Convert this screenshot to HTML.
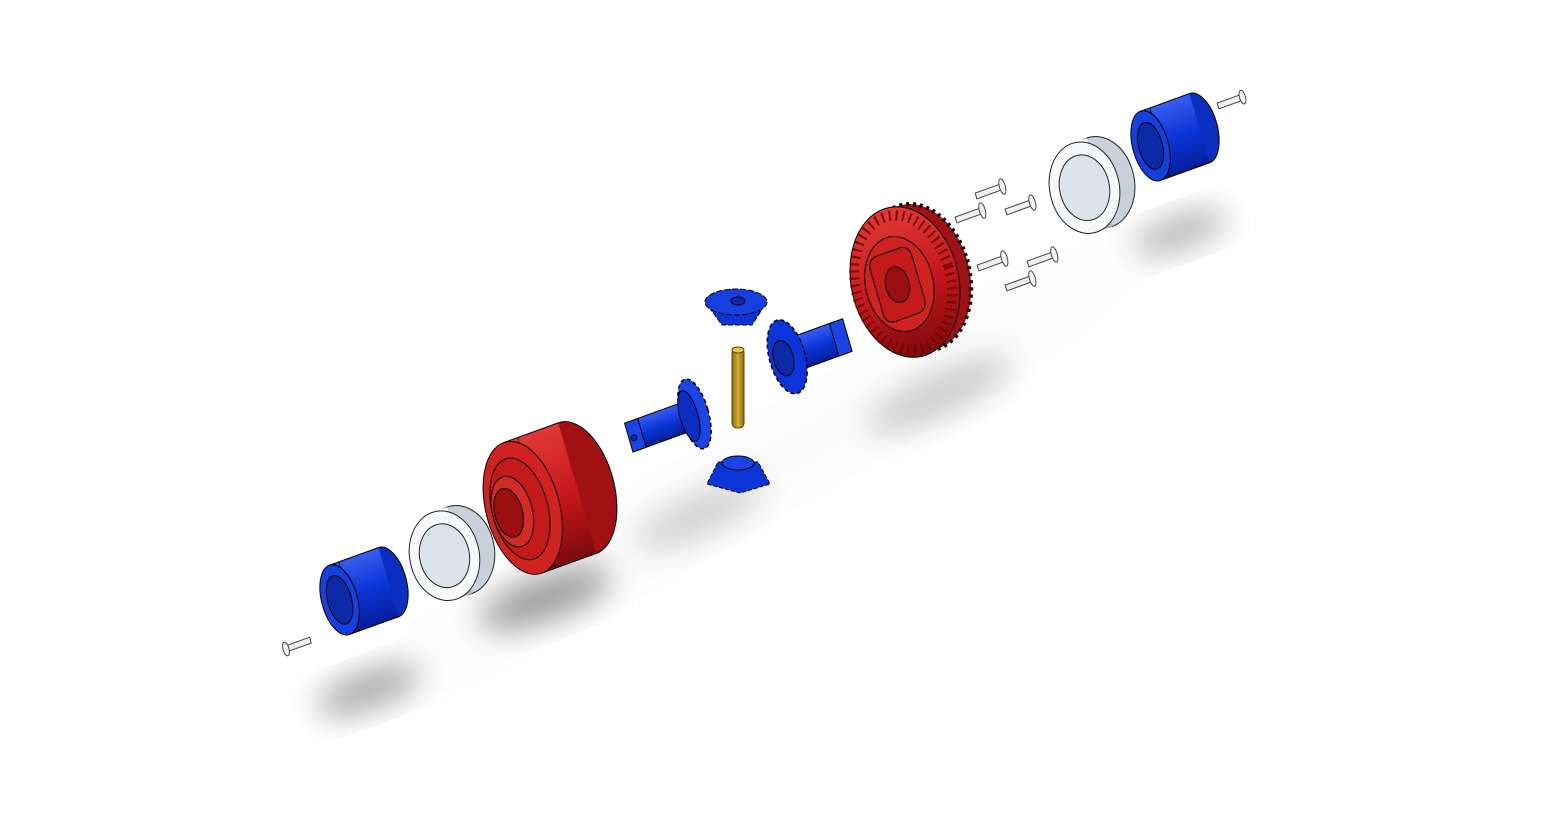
<!DOCTYPE html>
<html><head><meta charset="utf-8"><style>html,body{margin:0;padding:0;background:#fff;width:1560px;height:823px;overflow:hidden}</style></head>
<body>
<svg width="1560" height="823" viewBox="0 0 1560 823" xmlns="http://www.w3.org/2000/svg">
<defs>
<filter id="blur" x="-50%" y="-50%" width="200%" height="200%"><feGaussianBlur stdDeviation="16"/></filter>
<filter id="blur2" x="-50%" y="-50%" width="200%" height="200%"><feGaussianBlur stdDeviation="35"/></filter>
<linearGradient id="blueG" x1="0" y1="0" x2="0" y2="1"><stop offset="0" stop-color="#3a5df0"/><stop offset=".5" stop-color="#0b35d8"/><stop offset="1" stop-color="#061f9a"/></linearGradient>
<linearGradient id="redG" x1="0" y1="0" x2="0" y2="1"><stop offset="0" stop-color="#e03a35"/><stop offset=".55" stop-color="#c4161a"/><stop offset="1" stop-color="#7c0a0c"/></linearGradient>
<linearGradient id="whiteG" x1="0" y1="0" x2="0" y2="1"><stop offset="0" stop-color="#ffffff"/><stop offset=".6" stop-color="#dde4ee"/><stop offset="1" stop-color="#a8b2c2"/></linearGradient>
<linearGradient id="goldG" x1="0" y1="0" x2="1" y2="0"><stop offset="0" stop-color="#8a6d10"/><stop offset=".5" stop-color="#d4ad2c"/><stop offset="1" stop-color="#8a6d10"/></linearGradient>
</defs>

<g>
<ellipse cx="760" cy="470" rx="460" ry="26" transform="rotate(-30 760 470)" fill="#000" opacity="0.035" filter="url(#blur2)"/>
<ellipse cx="368" cy="690" rx="55" ry="18" transform="rotate(-20 368 690)" fill="#000" opacity="0.35" filter="url(#blur)"/>
<ellipse cx="545" cy="598" rx="70" ry="22" transform="rotate(-20 545 598)" fill="#000" opacity="0.38" filter="url(#blur)"/>
<ellipse cx="700" cy="515" rx="70" ry="22" transform="rotate(-25 700 515)" fill="#000" opacity="0.15" filter="url(#blur)"/>
<ellipse cx="940" cy="395" rx="80" ry="22" transform="rotate(-25 940 395)" fill="#000" opacity="0.18" filter="url(#blur)"/>
<ellipse cx="1180" cy="232" rx="50" ry="16" transform="rotate(-20 1180 232)" fill="#000" opacity="0.3" filter="url(#blur)"/>
</g>

<g transform="matrix(0.94,-0.34,0.28,0.96,286,649)">
<rect x="0" y="-3" width="26" height="6" fill="#f0f0ee" stroke="#444" stroke-width="1"/>
<ellipse cx="0" cy="0" rx="3" ry="7" fill="#f6f3ee" stroke="#444" stroke-width="1"/>
</g>

<g transform="matrix(0.94,-0.34,0.28,0.96,364,591)">
<ellipse cx="26" cy="0" rx="18" ry="36" fill="#0a2fc0" stroke="#000" stroke-width="1"/>
<rect x="-26" y="-36" width="52" height="72" fill="url(#blueG)"/>
<line x1="-26" y1="-36" x2="26" y2="-36" stroke="#000"/><line x1="-26" y1="36" x2="26" y2="36" stroke="#000"/>
<line x1="-16" y1="-36" x2="-16" y2="36" stroke="#000" stroke-width=".6"/>
<ellipse cx="-26" cy="0" rx="18" ry="36" fill="#1440e0" stroke="#000" stroke-width="1"/>
<ellipse cx="-26" cy="0" rx="12" ry="25" fill="#0a2aa8" stroke="#000" stroke-width="1"/>
</g>

<g transform="matrix(0.94,-0.34,0.28,0.96,452,553)">
<ellipse cx="8" cy="0" rx="35" ry="45" fill="#c8d0dc" stroke="#222" stroke-width="1"/>
<rect x="-8" y="-45" width="16" height="90" fill="url(#whiteG)"/>
<ellipse cx="-8" cy="0" rx="35" ry="45" fill="#f6f8fb" stroke="#222" stroke-width="1"/>
<ellipse cx="-8" cy="0" rx="25" ry="32" fill="#dde3ec" stroke="#222" stroke-width="1"/>
</g>

<g transform="matrix(0.94,-0.34,0.28,0.96,550,498)">
<ellipse cx="29" cy="0" rx="37" ry="68" fill="#a01014" stroke="#000" stroke-width="1"/>
<rect x="-29" y="-68" width="58" height="136" fill="url(#redG)"/>
<line x1="-29" y1="-68" x2="29" y2="-68" stroke="#000"/><line x1="-29" y1="68" x2="29" y2="68" stroke="#000"/>
<line x1="-14" y1="-68" x2="-14" y2="68" stroke="#000" stroke-width=".6"/>
<ellipse cx="-29" cy="0" rx="37" ry="68" fill="#d0221f" stroke="#000" stroke-width="1"/>
<ellipse cx="-32" cy="0" rx="28" ry="52" fill="#c41a1a" stroke="#000" stroke-width="1"/>
<ellipse cx="-40" cy="0" rx="20" ry="36" fill="#d42a26" stroke="#000" stroke-width="1"/>
<ellipse cx="-44" cy="0" rx="14" ry="25" fill="#9a0e10" stroke="#000" stroke-width="1"/>
</g>

<g transform="matrix(0.94,-0.34,0.28,0.96,672,422)">
<rect x="-42" y="-15" width="58" height="30" fill="url(#blueG)" stroke="#000" stroke-width="1"/>
<rect x="-46" y="-15" width="14" height="30" fill="#1a44e6" stroke="#000" stroke-width="1"/>
<circle cx="-41" cy="2" r="3" fill="#0a2aa8" stroke="#000" stroke-width=".8"/>
<ellipse cx="24" cy="0" rx="14" ry="36" fill="#1a44e6" stroke="#000" stroke-width="1.5" stroke-dasharray="4 3"/>
<ellipse cx="18" cy="0" rx="9" ry="26" fill="#0a2fc0" stroke="#000" stroke-width="1"/>
</g>

<g>
<rect x="732" y="348" width="12" height="80" rx="5" fill="url(#goldG)" stroke="#5a4808" stroke-width="1"/>
<ellipse cx="738" cy="350" rx="6" ry="3" fill="#e5c84a" stroke="#5a4808" stroke-width="1"/>
</g>

<g>
<path d="M706,303 L766,303 L752,325 L722,325 Z" fill="#0b35d8" stroke="#000" stroke-width="1" stroke-dasharray="5 2"/>
<ellipse cx="736" cy="302" rx="31" ry="13" fill="#1440e0" stroke="#000" stroke-width="1" stroke-dasharray="6 2"/>
<ellipse cx="738" cy="301" rx="7" ry="4" fill="#0a2aa8" stroke="#000" stroke-width="1"/>
</g>

<g>
<path d="M718,462 L758,462 L770,484 L740,493 L707,484 Z" fill="#0b35d8" stroke="#000" stroke-width="1" stroke-dasharray="4 2"/>
<ellipse cx="738" cy="463" rx="16" ry="7" fill="#1a44e6" stroke="#000" stroke-width="1"/>
</g>

<g transform="matrix(0.94,-0.34,0.28,0.96,806,350)">
<rect x="-14" y="-17" width="50" height="34" fill="url(#blueG)" stroke="#000" stroke-width="1"/>
<rect x="30" y="-17" width="14" height="34" fill="#1a44e6" stroke="#000" stroke-width="1"/>
<ellipse cx="-20" cy="0" rx="18" ry="38" fill="#0b35d8" stroke="#000" stroke-width="1.5" stroke-dasharray="4 3"/>
<ellipse cx="-24" cy="0" rx="10" ry="18" fill="#0a2aa8" stroke="#000" stroke-width="1"/>
</g>

<g transform="matrix(0.94,-0.34,0.28,0.96,905,282)">
<ellipse cx="14" cy="0" rx="52" ry="74" fill="#a01014" stroke="#000" stroke-width="4" stroke-dasharray="3 4"/>
<ellipse cx="0" cy="0" rx="54" ry="76" fill="url(#redG)" stroke="#000" stroke-width="1"/>
<ellipse cx="-2" cy="0" rx="48" ry="68" fill="none" stroke="#700" stroke-width="10" stroke-dasharray="2 5"/>
<ellipse cx="-6" cy="0" rx="34" ry="48" fill="#d0221f" stroke="#000" stroke-width="1"/>
<rect x="-30" y="-34" width="44" height="68" rx="10" fill="#c41a1a" stroke="#000" stroke-width="1"/>
<ellipse cx="-8" cy="0" rx="12" ry="18" fill="#9a0e10" stroke="#000" stroke-width="1"/>
</g>

<g>
<g transform="matrix(0.94,-0.34,0.28,0.96,956,220)"><rect x="0" y="-3" width="28" height="6" fill="#f0f0ee" stroke="#444"/><ellipse cx="28" cy="0" rx="3" ry="8" fill="#f6f3ee" stroke="#444"/></g>
<g transform="matrix(0.94,-0.34,0.28,0.96,976,196)"><rect x="0" y="-3" width="28" height="6" fill="#f0f0ee" stroke="#444"/><ellipse cx="28" cy="0" rx="3" ry="8" fill="#f6f3ee" stroke="#444"/></g>
<g transform="matrix(0.94,-0.34,0.28,0.96,1006,212)"><rect x="0" y="-3" width="28" height="6" fill="#f0f0ee" stroke="#444"/><ellipse cx="28" cy="0" rx="3" ry="8" fill="#f6f3ee" stroke="#444"/></g>
<g transform="matrix(0.94,-0.34,0.28,0.96,978,268)"><rect x="0" y="-3" width="28" height="6" fill="#f0f0ee" stroke="#444"/><ellipse cx="28" cy="0" rx="3" ry="8" fill="#f6f3ee" stroke="#444"/></g>
<g transform="matrix(0.94,-0.34,0.28,0.96,1006,288)"><rect x="0" y="-3" width="28" height="6" fill="#f0f0ee" stroke="#444"/><ellipse cx="28" cy="0" rx="3" ry="8" fill="#f6f3ee" stroke="#444"/></g>
<g transform="matrix(0.94,-0.34,0.28,0.96,1028,264)"><rect x="0" y="-3" width="28" height="6" fill="#f0f0ee" stroke="#444"/><ellipse cx="28" cy="0" rx="3" ry="8" fill="#f6f3ee" stroke="#444"/></g>
</g>

<g transform="matrix(0.94,-0.34,0.28,0.96,1092,185)">
<ellipse cx="8" cy="0" rx="35" ry="46" fill="#c8d0dc" stroke="#222" stroke-width="1"/>
<rect x="-8" y="-46" width="16" height="92" fill="url(#whiteG)"/>
<ellipse cx="-8" cy="0" rx="35" ry="46" fill="#f6f8fb" stroke="#222" stroke-width="1"/>
<ellipse cx="-8" cy="0" rx="25" ry="33" fill="#dde3ec" stroke="#222" stroke-width="1"/>
</g>

<g transform="matrix(0.94,-0.34,0.28,0.96,1175,137)">
<ellipse cx="26" cy="0" rx="18" ry="36" fill="#0a2fc0" stroke="#000" stroke-width="1"/>
<rect x="-26" y="-36" width="52" height="72" fill="url(#blueG)"/>
<line x1="-26" y1="-36" x2="26" y2="-36" stroke="#000"/><line x1="-26" y1="36" x2="26" y2="36" stroke="#000"/>
<line x1="-16" y1="-36" x2="-16" y2="36" stroke="#000" stroke-width=".6"/>
<ellipse cx="-26" cy="0" rx="18" ry="36" fill="#1440e0" stroke="#000" stroke-width="1"/>
<ellipse cx="-26" cy="0" rx="12" ry="24" fill="#0a2aa8" stroke="#000" stroke-width="1"/>
</g>

<g transform="matrix(0.94,-0.34,0.28,0.96,1218,106)">
<rect x="0" y="-3" width="26" height="6" fill="#f0f0ee" stroke="#444" stroke-width="1"/>
<ellipse cx="26" cy="0" rx="3" ry="7" fill="#f6f3ee" stroke="#444" stroke-width="1"/>
</g>
</svg>
</body></html>
